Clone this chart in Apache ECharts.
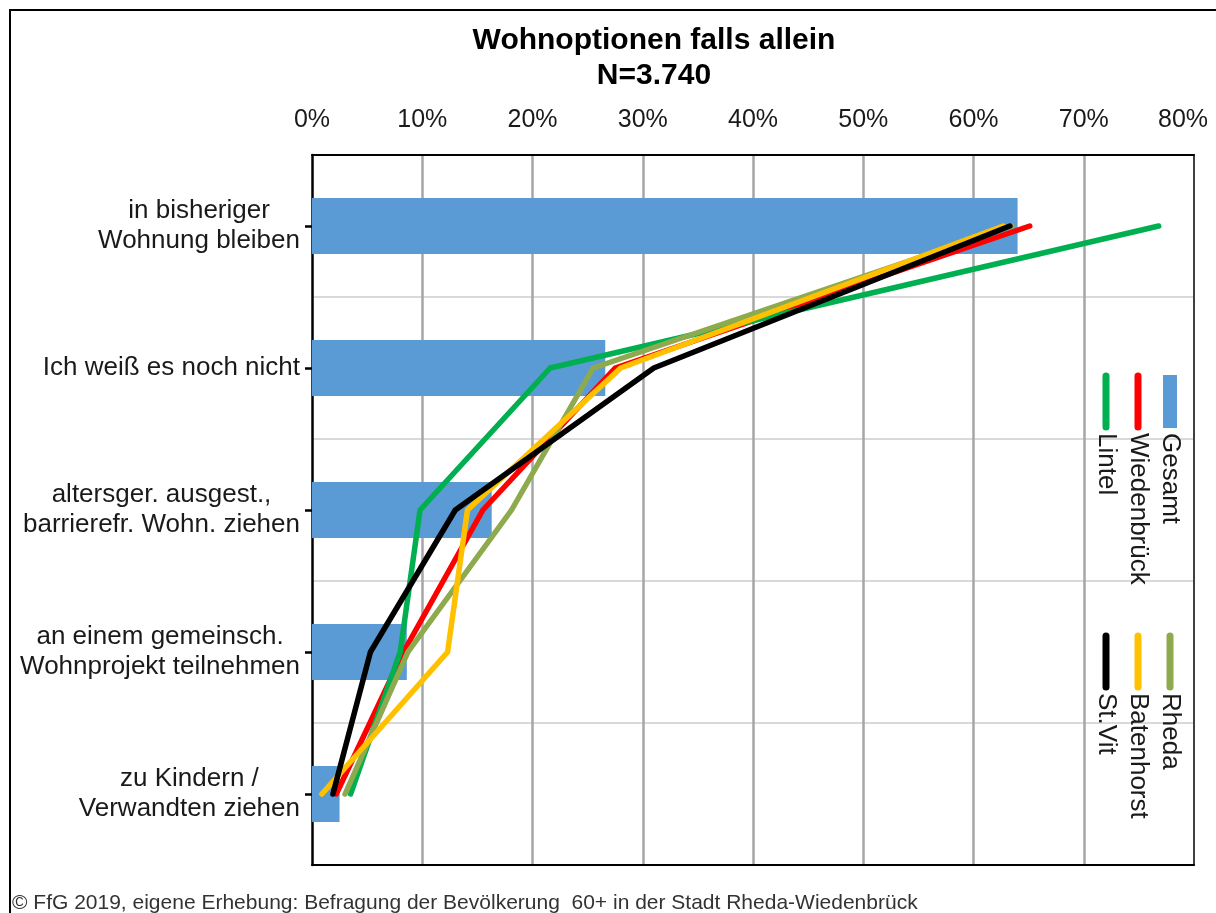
<!DOCTYPE html>
<html><head><meta charset="utf-8">
<script src="https://cdn.jsdelivr.net/npm/echarts@6/dist/echarts.min.js"></script>
<style>html,body{margin:0;padding:0;background:#fff;overflow:hidden}#c{width:1216px;height:913px}</style>
</head><body><div id="c"></div>
<script>
// ---- data ----
const categories = [
  'in bisheriger\nWohnung bleiben',
  'Ich weiß es noch nicht',
  'altersger. ausgest.,\nbarrierefr. Wohn. ziehen',
  'an einem gemeinsch.\nWohnprojekt teilnehmen',
  'zu Kindern /\nVerwandten ziehen'
];
const gesamt      = [64.0, 26.6, 16.3, 8.6, 2.5];
const wiedenbrueck = [65.1, 27.5, 15.5, 8.3, 2.2];
const lintel      = [76.8, 21.6, 9.8, 8.0, 3.5];
const rheda       = [63.5, 25.5, 18.1, 8.7, 3.0];
const batenhorst  = [62.7, 28.0, 14.1, 12.3, 0.9];
const stvit       = [63.3, 31.0, 13.0, 5.3, 1.9];
const xTickLabels = ['0%','10%','20%','30%','40%','50%','60%','70%','80%'];
const seriesNames = ['Gesamt','Wiedenbrück','Lintel','Rheda','Batenhorst','St.Vit'];
const seriesColors = ['#5b9bd5','#ff0000','#00b050','#8eaa4e','#ffc000','#000000'];
const lineData = [wiedenbrueck, lintel, rheda, batenhorst, stvit];
const titleText = 'Wohnoptionen falls allein\nN=3.740';
const footerText = '© FfG 2019, eigene Erhebung: Befragung der Bevölkerung  60+ in der Stadt Rheda-Wiedenbrück';

// ---- chart ----
const chart = echarts.init(document.getElementById('c'), null, {renderer: 'canvas', width: 1216, height: 913});
const FONT = 'Liberation Sans, Arial, sans-serif';

const series = [{
  name: seriesNames[0], type: 'bar', data: gesamt, barWidth: 56,
  itemStyle: {color: seriesColors[0]}, z: 2
}];
lineData.forEach((d, i) => {
  series.push({
    name: seriesNames[i + 1], type: 'line', data: d, symbol: 'none',
    lineStyle: {color: seriesColors[i + 1], width: 5.5, cap: 'round', join: 'round'},
    itemStyle: {color: seriesColors[i + 1]}, z: 3 + i
  });
});

// legend drawn as rotated graphics
const legendCols = [1170, 1138, 1106];
const legendGroups = [{sy: 373, ey: 430, ty: 433}, {sy: 633, ey: 690, ty: 693}];
const graphics = [];
seriesNames.forEach((name, i) => {
  const g = legendGroups[Math.floor(i / 3)];
  const cx = legendCols[i % 3];
  if (i === 0) {
    graphics.push({type: 'rect', shape: {x: cx - 7, y: g.sy + 2, width: 14, height: g.ey - g.sy - 4},
      style: {fill: seriesColors[i]}, z: 100});
  } else {
    graphics.push({type: 'line', shape: {x1: cx, y1: g.sy + 3, x2: cx, y2: g.ey - 3},
      style: {stroke: seriesColors[i], lineWidth: 7, lineCap: 'round'}, z: 100});
  }
  graphics.push({type: 'text', x: cx, y: g.ty, rotation: -Math.PI / 2,
    style: {text: name, x: 0, y: 0, fill: '#1a1a1a', font: '26px ' + FONT,
      align: 'left', verticalAlign: 'middle', textAlign: 'left', textVerticalAlign: 'middle'}, z: 100});
});
graphics.push({type: 'rect', shape: {x: 10, y: 10, width: 1240, height: 940},
  style: {fill: 'none', stroke: '#000', lineWidth: 2}, z: 0, silent: true});
graphics.push({type: 'text', x: 12, y: 903,
  style: {text: footerText, x: 0, y: 0, fill: '#333', font: '21px ' + FONT,
    align: 'left', verticalAlign: 'middle', textAlign: 'left', textVerticalAlign: 'middle'}});

chart.setOption({
  animation: false,
  backgroundColor: '#fff',
  title: {
    text: titleText, left: 649, top: 18, textAlign: 'center',
    textStyle: {fontFamily: FONT, fontSize: 30, fontWeight: 'bold', color: '#000', lineHeight: 35}
  },
  grid: {left: 312, right: 22, top: 155, bottom: 48, containLabel: false, outerBoundsMode: 'none'},
  xAxis: [{
    type: 'value', position: 'top', min: 0, max: 80, interval: 10,
    axisLine: {show: true, onZero: false, lineStyle: {color: '#000', width: 2}},
    axisTick: {show: false},
    axisLabel: {margin: 22, fontFamily: FONT, fontSize: 25, color: '#1a1a1a',
      formatter: v => {
        const t = xTickLabels[Math.round(v / 10)];
        return v >= 80 ? '{last|' + t + '}' : t;
      },
      rich: {last: {fontFamily: FONT, fontSize: 25, color: '#1a1a1a', padding: [0, 22, 0, 0]}}
    },
    splitLine: {show: true, showMinLine: false, showMaxLine: false, lineStyle: {color: '#a6a6a6', width: 2.5}}
  }, {
    type: 'value', position: 'bottom', min: 0, max: 80, interval: 10,
    axisLine: {show: true, onZero: false, lineStyle: {color: '#000', width: 2}},
    axisTick: {show: false}, axisLabel: {show: false}, splitLine: {show: false}
  }],
  yAxis: [{
    type: 'category', data: categories, inverse: true,
    axisLine: {show: true, onZero: false, lineStyle: {color: '#000', width: 2.5}},
    axisTick: {show: true, alignWithLabel: true, length: 7, lineStyle: {color: '#000', width: 2.5}},
    axisLabel: {
      margin: 12, color: '#1a1a1a', fontFamily: FONT, fontSize: 26, lineHeight: 30,
      formatter: v => v.split('\n').map(l => '{c|' + l + '}').join('\n'),
      rich: {c: {align: 'center', fontFamily: FONT, fontSize: 26, lineHeight: 30, color: '#1a1a1a'}}
    },
    splitLine: {show: true, lineStyle: {color: '#d9d9d9', width: 2}}
  }, {
    type: 'category', data: categories, inverse: true, position: 'right',
    axisLine: {show: true, onZero: false, lineStyle: {color: '#404040', width: 2}},
    axisTick: {show: false}, axisLabel: {show: false}, splitLine: {show: false}
  }],
  series: series,
  graphic: graphics
});
</script>
</body></html>
